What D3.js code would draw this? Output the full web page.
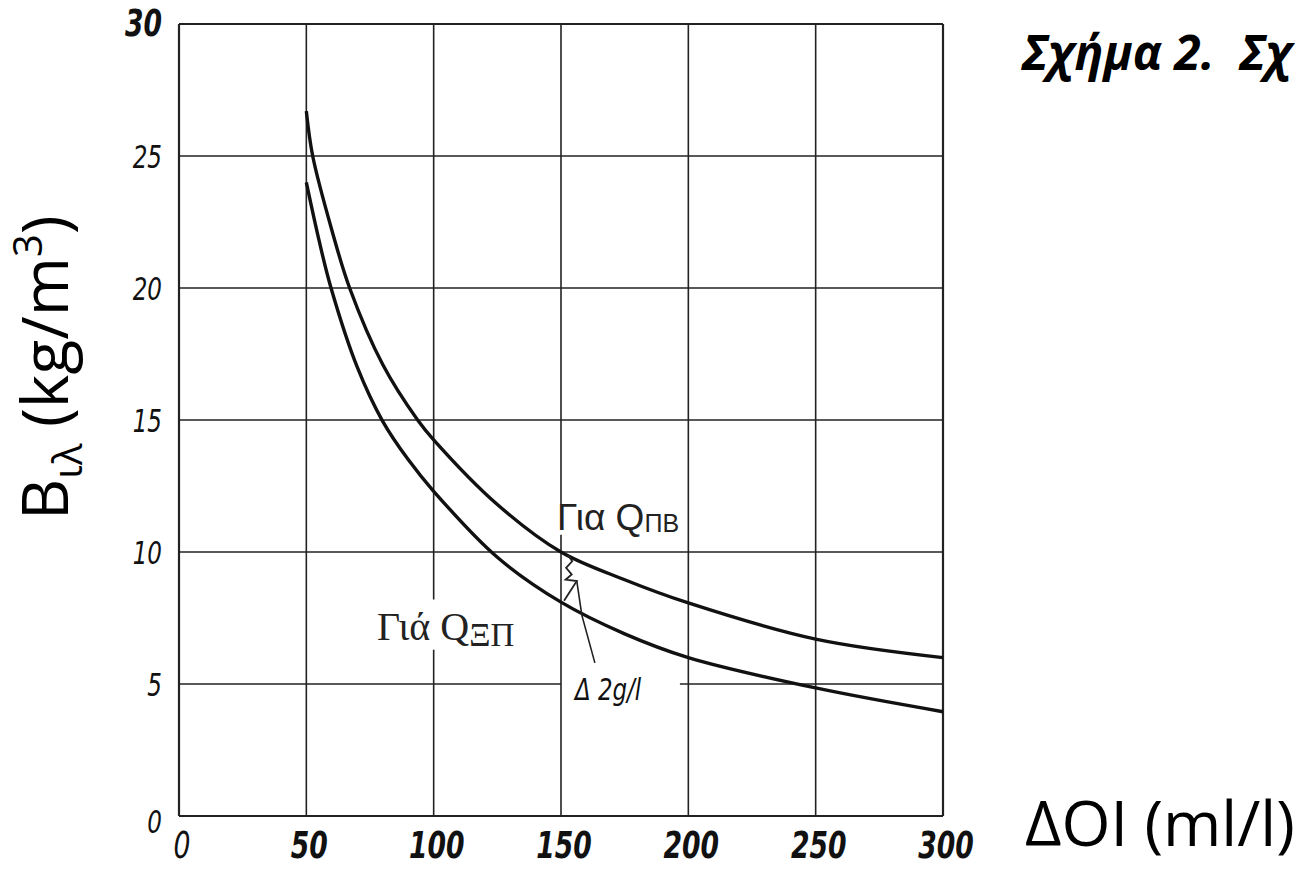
<!DOCTYPE html>
<html>
<head>
<meta charset="utf-8">
<script src="https://cdn.jsdelivr.net/npm/d3@7"></script>
<style>
  body { margin: 0; background: #fff; overflow: hidden; }
  .tick-lbl { font-family: "DejaVu Sans Condensed", "DejaVu Sans", sans-serif; font-style: italic; fill: #111; }
</style>
</head>
<body>
<div id="Area"></div>
<script>
// values
var xTicks = [0, 50, 100, 150, 200, 250, 300];
var yTicks = [0, 5, 10, 15, 20, 25, 30];
var xBold = [50, 100, 150, 200, 250, 300];
var yBold = [30];

// upper curve: Για Q_ΠΒ
var doiPB = [50, 52.5, 60, 67, 80, 93.7, 100, 125, 150, 175, 200, 250, 300];
var bPB = [26.7, 25, 22.2, 20, 17.1, 15, 14.25, 11.8, 10, 8.95, 8.07, 6.7, 6.0];
// lower curve: Γιά Q_ΞΠ
var doiXP = [50, 55, 59.7, 70, 80, 90, 100, 125, 150, 175, 200, 250, 300];
var bXP = [24.0, 21.8, 20, 17.0, 14.95, 13.5, 12.3, 9.8, 8.1, 6.9, 6.0, 4.85, 3.95];

// Δ 2g/l marker (data units)
var leaderPts = [[163.3, 5.8], [158.2, 7.6], [156.2, 8.9]];
var zigPts = [[152.7, 9.9], [154.4, 9.65], [152.0, 9.4], [154.2, 9.15], [151.8, 8.95], [156.2, 8.9], [151.2, 8.15]];

// grid lines are broken where the labels sit (value ranges)
var vGaps = { 100: [6.3, 8.2], 150: [10.65, 11.8] };
var hGaps = { 5: [150, 196.7] };

var margin = { top: 24, right: 373, bottom: 53, left: 179 },
  width = 1316 - margin.left - margin.right,
  height = 869 - margin.top - margin.bottom;

var svg = d3.select("#Area")
  .append("svg")
  .attr("width", 1316)
  .attr("height", 869);

var g = svg.append("g")
  .attr("transform", "translate(" + margin.left + "," + margin.top + ")");

var x = d3.scaleLinear().domain([0, 300]).range([0, width]);
var y = d3.scaleLinear().domain([0, 30]).range([height, 0]);

// split a grid line into pieces around its gap
function pieces(lo, hi, gap) {
  if (!gap) return [[lo, hi]];
  return [[lo, gap[0]], [gap[1], hi]];
}

var vSegs = [];
xTicks.forEach(function (t) {
  pieces(0, 30, vGaps[t]).forEach(function (p) { vSegs.push({ t: t, a: p[0], b: p[1] }); });
});
var hSegs = [];
yTicks.forEach(function (t) {
  pieces(0, 300, hGaps[t]).forEach(function (p) { hSegs.push({ t: t, a: p[0], b: p[1] }); });
});

g.selectAll(".vgrid")
  .data(vSegs)
  .enter().append("line")
  .attr("x1", function (d) { return x(d.t); })
  .attr("x2", function (d) { return x(d.t); })
  .attr("y1", function (d) { return y(d.a); })
  .attr("y2", function (d) { return y(d.b); })
  .attr("stroke", "#222")
  .attr("stroke-width", function (d) { return (d.t == 0 || d.t == 300) ? 2.2 : 1.6; });

g.selectAll(".hgrid")
  .data(hSegs)
  .enter().append("line")
  .attr("x1", function (d) { return x(d.a); })
  .attr("x2", function (d) { return x(d.b); })
  .attr("y1", function (d) { return y(d.t); })
  .attr("y2", function (d) { return y(d.t); })
  .attr("stroke", "#222")
  .attr("stroke-width", function (d) { return (d.t == 0 || d.t == 30) ? 2.2 : 1.6; });

// curves
var line = d3.line()
  .x(function (d) { return x(d[0]); })
  .y(function (d) { return y(d[1]); })
  .curve(d3.curveCatmullRom.alpha(0.5));

g.append("path")
  .datum(d3.zip(doiPB, bPB))
  .attr("d", line)
  .attr("fill", "none")
  .attr("stroke", "#111")
  .attr("stroke-width", 3.4);

g.append("path")
  .datum(d3.zip(doiXP, bXP))
  .attr("d", line)
  .attr("fill", "none")
  .attr("stroke", "#111")
  .attr("stroke-width", 3.4);

var straight = d3.line()
  .x(function (d) { return x(d[0]); })
  .y(function (d) { return y(d[1]); });

g.append("path")
  .attr("d", straight(leaderPts))
  .attr("fill", "none").attr("stroke", "#222").attr("stroke-width", 1.6);
g.append("path")
  .attr("d", straight(zigPts))
  .attr("fill", "none").attr("stroke", "#222").attr("stroke-width", 1.8);

// tick labels (narrow technical lettering -> squeeze horizontally)
g.selectAll(".xlbl")
  .data(xTicks)
  .enter().append("text")
  .attr("class", "tick-lbl")
  .attr("transform", function (d) { return "translate(" + (x(d) + 3) + "," + (height + 42) + ") scale(0.8,1)"; })
  .attr("text-anchor", "middle")
  .style("font-size", "37px")
  .style("font-weight", function (d) { return xBold.indexOf(d) >= 0 ? "bold" : "normal"; })
  .text(function (d) { return d; });

g.selectAll(".ylbl")
  .data(yTicks)
  .enter().append("text")
  .attr("class", "tick-lbl")
  .attr("transform", function (d) {
    return "translate(-17," + (y(d) + (d == 0 ? 17 : 12)) + ") scale(0.8,1)";
  })
  .attr("text-anchor", "end")
  .style("font-size", function (d) { return yBold.indexOf(d) >= 0 ? "37px" : "32px"; })
  .style("font-weight", function (d) { return yBold.indexOf(d) >= 0 ? "bold" : "normal"; })
  .text(function (d) { return d; });

// curve labels
var lblPB = g.append("text")
  .attr("x", x(148.4)).attr("y", y(10.83))
  .style("font-family", "'Liberation Sans', sans-serif")
  .style("font-size", "37px")
  .attr("fill", "#222");
lblPB.append("tspan").text("Για Q");
lblPB.append("tspan").style("font-size", "25px").attr("dy", 2).text("ΠΒ");

var lblXP = g.append("text")
  .attr("x", x(77.7)).attr("y", y(6.67))
  .style("font-family", "'Liberation Serif', serif")
  .style("font-size", "40px")
  .attr("fill", "#222");
lblXP.append("tspan").text("Γιά Q");
lblXP.append("tspan").style("font-size", "33px").attr("dy", 6).text("ΞΠ");

g.append("text")
  .attr("class", "tick-lbl")
  .attr("transform", "translate(" + x(155.5) + "," + y(4.4) + ") scale(0.85,1)")
  .style("font-size", "30px")
  .text("Δ 2g/l");

// axis titles
var yt = svg.append("text")
  .attr("transform", "translate(68,520) rotate(-90)")
  .style("font-family", "'Open Sans', 'Noto Sans', sans-serif")
  .style("font-size", "64px")
  .attr("fill", "#000");
yt.append("tspan").text("B");
yt.append("tspan").style("font-size", "40px").attr("dy", 14).text("ιλ");
yt.append("tspan").attr("dy", -14).text(" (kg/m");
yt.append("tspan").style("font-size", "40px").attr("dy", -26).text("3");
yt.append("tspan").attr("dy", 26).text(")");

svg.append("text")
  .attr("x", 1025).attr("y", 846)
  .style("font-family", "'Open Sans', 'Noto Sans', sans-serif")
  .style("font-size", "63px")
  .attr("fill", "#000")
  .text("ΔOI (ml/l)");

svg.append("text")
  .attr("x", 1022).attr("y", 70)
  .style("font-family", "'Open Sans', 'Noto Sans', sans-serif")
  .style("font-size", "48px")
  .style("font-weight", "bold")
  .style("font-style", "italic")
  .attr("fill", "#000")
  .text("Σχήμα 2.\u00a0\u00a0Σχ");
</script>
</body>
</html>
